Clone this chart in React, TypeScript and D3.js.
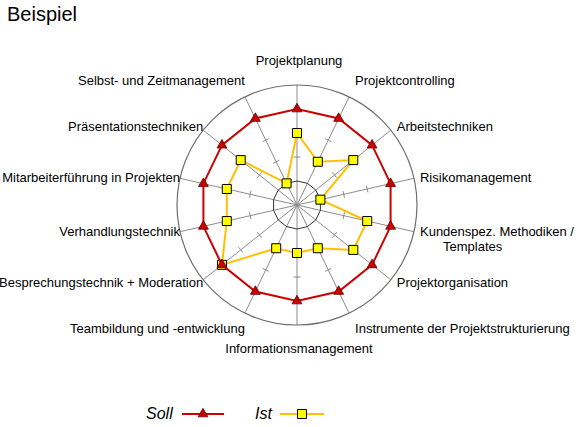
import * as d3 from 'd3';

const categories = [
  'Projektplanung',
  'Projektcontrolling',
  'Arbeitstechniken',
  'Risikomanagement',
  'Kundenspez. Methodiken /\nTemplates',
  'Projektorganisation',
  'Instrumente der Projektstrukturierung',
  'Informationsmanagement',
  'Teambildung und -entwicklung',
  'Besprechungstechnik + Moderation',
  'Verhandlungstechnik',
  'Mitarbeiterführung in Projekten',
  'Präsentationstechniken',
  'Selbst- und Zeitmanagement',
];
const sollValues = [4, 4, 4, 4, 4, 4, 4, 4, 4, 4, 4, 4, 4, 4];
const istValues = [3, 2, 3, 1, 3, 3, 2, 2, 2, 4, 3, 3, 3, 1];
const tickValues = [2, 3, 4];
const innerRingValue = 1;
const axisMax = 5;

const W = 586;
const H = 427;
const CX = 297;
const CY = 205;
const R = 120;
const FONT = '"Liberation Sans", Arial, sans-serif';
const SOLL = '#cc0000';
const IST = '#ffc000';

export default function App() {
  const r = d3.scaleLinear().domain([0, axisMax]).range([0, R]);
  const n = categories.length;
  const angle = (i: number) => (i * 2 * Math.PI) / n;
  const pt = (i: number, v: number): [number, number] => [
    Math.sin(angle(i)) * r(v),
    -Math.cos(angle(i)) * r(v),
  ];

  const radial = d3
    .lineRadial<number>()
    .angle((_, i) => angle(i))
    .radius((d) => r(d))
    .curve(d3.curveLinearClosed);

  const tri = d3.symbol().type(d3.symbolTriangle).size(42)()!;
  const sq = d3.symbol().type(d3.symbolSquare).size(81)()!;

  const labels = categories.map((c, i) => {
    const s = Math.sin(angle(i));
    const co = Math.cos(angle(i));
    const ex = CX + s * R;
    const ey = CY - co * R;
    let anchor: 'start' | 'end' | 'middle' = 'middle';
    let x = ex + 2;
    if (s > 0.1) {
      anchor = 'start';
      x = ex + 6;
    } else if (s < -0.1) {
      anchor = 'end';
      x = ex;
    }
    const yc = ey - 24 * Math.sign(co) * Math.pow(Math.abs(co), 4);
    return { lines: c.split('\n'), x, y: yc + 4, anchor };
  });

  return (
    <svg
      width={W}
      height={H}
      style={{ position: 'absolute', left: 0, top: 0, background: '#fff' }}
      fontFamily={FONT}
    >
      <text x={7} y={21} fontSize={20} fill="#000">
        Beispiel
      </text>

      <g transform={`translate(${CX},${CY})`}>
        {categories.map((_, i) => {
          const [x, y] = pt(i, axisMax);
          return <line key={i} x1={0} y1={0} x2={x} y2={y} stroke="#8c8c8c" strokeWidth={1} />;
        })}
        {categories.map((_, i) =>
          tickValues.map((t) => {
            const [x, y] = pt(i, t);
            const a = angle(i);
            const px = Math.cos(a) * 3.5;
            const py = Math.sin(a) * 3.5;
            return (
              <line
                key={`${i}-${t}`}
                x1={x - px}
                y1={y - py}
                x2={x + px}
                y2={y + py}
                stroke="#8c8c8c"
                strokeWidth={1}
              />
            );
          }),
        )}
        <circle r={r(axisMax)} fill="none" stroke="#6e6e6e" strokeWidth={1.2} />
        <path
          d={radial(categories.map(() => innerRingValue)) ?? undefined}
          fill="none"
          stroke="#333"
          strokeWidth={1}
        />

        <path d={radial(istValues) ?? undefined} fill="none" stroke={IST} strokeWidth={2} />
        {istValues.map((v, i) => {
          const [x, y] = pt(i, v);
          return (
            <path key={i} d={sq} transform={`translate(${x},${y})`} fill="#ffff00" stroke="#000" strokeWidth={1} />
          );
        })}

        <path d={radial(sollValues) ?? undefined} fill="none" stroke={SOLL} strokeWidth={2} />
        {sollValues.map((v, i) => {
          const [x, y] = pt(i, v);
          return (
            <path key={i} d={tri} transform={`translate(${x},${y})`} fill={SOLL} stroke="#5a0000" strokeWidth={0.8} />
          );
        })}
      </g>

      {labels.map((l, i) => (
        <text key={i} x={l.x} y={l.y} textAnchor={l.anchor} fontSize={13} fill="#000">
          {l.lines.map((line, j) => (
            <tspan key={j} x={l.x + (j > 0 ? 23 : 0)} dy={j > 0 ? 15 : 0}>
              {line}
            </tspan>
          ))}
        </text>
      ))}

      <g fontSize={16} fontStyle="italic" fill="#000">
        <text x={146} y={419}>Soll</text>
        <line x1={182} x2={224} y1={414} y2={414} stroke={SOLL} strokeWidth={2} />
        <path d={tri} transform="translate(203,414)" fill={SOLL} stroke="#5a0000" strokeWidth={0.8} />
        <text x={255} y={419}>Ist</text>
        <line x1={280} x2={324} y1={414} y2={414} stroke={IST} strokeWidth={2} />
        <path d={sq} transform="translate(302,414)" fill="#ffff00" stroke="#000" strokeWidth={1} />
      </g>
    </svg>
  );
}
